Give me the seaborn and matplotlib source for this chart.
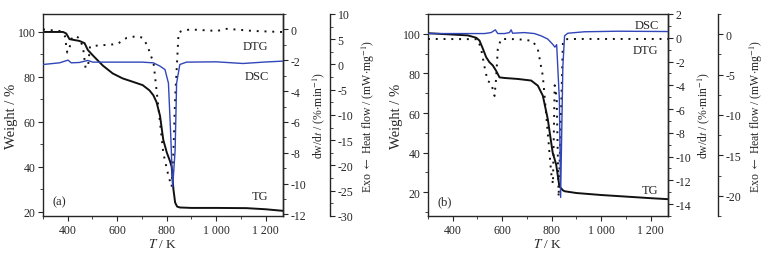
import matplotlib
matplotlib.use("Agg")
import matplotlib.pyplot as plt
import matplotlib.ticker as mticker
import seaborn as sns

# ---------------------------------------------------------------
# data (T in K)
# ---------------------------------------------------------------
# panel (a)
tg_a_T = [300, 381, 394, 407, 447, 468, 481, 501, 542, 582, 622, 663, 703, 730, 746,
          759, 773, 786, 800, 813, 820, 827, 834, 842, 853, 900, 1000, 1122, 1200, 1270]
tg_a_w = [100, 100, 99.3, 96.8, 96, 95, 92, 89.6, 85, 81.5, 79.3, 77.8, 76.3, 74, 71.8,
          68.7, 62.6, 52, 46.4, 42.5, 40, 30, 24, 22.2, 21.8, 21.6, 21.6, 21.5, 21, 20.3]

dtg_a_T = [300, 367, 388, 398, 407, 417, 435, 449, 462, 472, 482, 490, 518, 560, 600,
           638, 678, 703, 723, 736, 746, 766, 786, 807, 820, 827, 834, 848, 861, 895,
           1003, 1043, 1150, 1270]
dtg_a_d = [0, -0.1, -0.4, -1.5, -1.2, -0.5, -0.45, -0.6, -1.2, -2.5, -2.4, -1.1, -1.05,
           -1.0, -0.95, -0.55, -0.44, -0.54, -1.08, -1.73, -2.06, -4.98, -8.0, -9.5,
           -10.2, -8.0, -4.5, -0.2, -0.1, 0, -0.1, 0.04, -0.1, -0.17]

dsc_a_T = [300, 367, 401, 414, 447, 481, 501, 600, 700, 746, 773, 793, 807, 816, 824,
           834, 840, 853, 880, 1000, 1108, 1200, 1270]
dsc_a_h = [0, 0.33, 0.87, 0.33, 0.4, 0.8, 0.47, 0.47, 0.47, 0.33, -0.33, -1.0, -3.7,
           -13.7, -24.3, -17, -3.7, 0, 0.47, 0.53, 0.2, 0.5, 0.67]

# panel (b)
tg_b_T = [300, 461, 495, 508, 522, 535, 548, 562, 575, 589, 609, 663, 717, 744, 764,
          784, 798, 804, 818, 831, 845, 852, 900, 1000, 1100, 1200, 1270]
tg_b_w = [100.3, 99.2, 98, 96.6, 92.4, 88.2, 85.7, 84, 81.4, 78, 77.7, 77.2, 76.4,
          73.8, 68.8, 57, 45, 40, 34, 23, 21, 20.5, 19.6, 18.6, 17.8, 17.0, 16.5]

dtg_b_T = [300, 501, 515, 528, 541, 555, 569, 575, 582, 595, 663, 723, 744, 764, 784,
           798, 805, 812, 820, 828, 838, 845, 852, 900, 1000, 1270]
dtg_b_d = [-0.1, -0.12, -0.97, -2.4, -3.65, -3.8, -4.9, -3.5, -0.97, -0.1, -0.12,
           -0.26, -0.97, -3.2, -8.0, -11.4, -12.3, -4.0, -5.0, -13.4, -6.0, -0.5,
           -0.12, -0.1, -0.1, -0.1]

dsc_b_T = [300, 461, 528, 555, 572, 582, 609, 629, 636, 642, 690, 730, 757, 784, 804,
           813, 820, 831, 836, 845, 852, 865, 932, 1067, 1270]
dsc_b_h = [0.08, 0.08, 0.08, 0.2, 0.54, 0.08, 0.08, 0.2, 0.54, 0.12, 0.2, 0.08, -0.2,
           -0.6, -1.25, -1.6, -1.3, -8.1, -20.2, -4.0, -0.2, 0.12, 0.3, 0.37, 0.33]

panels = [
    dict(tg=(tg_a_T, tg_a_w), dtg=(dtg_a_T, dtg_a_d), dsc=(dsc_a_T, dsc_a_h),
         left=43, wlim=(18, 108), dlim=(-12.1, 1), hlim=(-30, 10), hmaj=5,
         dmaj=2, off=1.196, lab3=1.321, tag="(a)",
         labels=[("DTG", 93.7), ("DSC", 80.4), ("TG", 26.8)], tag_w=24.5, lab_T=1212),
    dict(tg=(tg_b_T, tg_b_w), dtg=(dtg_b_T, dtg_b_d), dsc=(dsc_b_T, dsc_b_h),
         left=428, wlim=(8, 110), dlim=(-15, 2), hlim=(-22.5, 2.5), hmaj=5,
         dmaj=2, off=1.208, lab3=1.333, tag="(b)",
         labels=[("DSC", 104.5), ("DTG", 91.9), ("TG", 21)], tag_w=15.4, lab_T=1232),
]

sns.set_style("ticks")
plt.rcParams['font.family'] = ['Liberation Serif', 'DejaVu Serif']
plt.rcParams['mathtext.fontset'] = 'stix'
plt.rcParams['axes.unicode_minus'] = False
plt.rcParams['font.size'] = 8.5
plt.rcParams['axes.linewidth'] = 1.0
for a in ("x", "y"):
    plt.rcParams[f'{a}tick.major.size'] = 3.5
    plt.rcParams[f'{a}tick.minor.size'] = 2
    plt.rcParams[f'{a}tick.direction'] = 'out'
    plt.rcParams[f'{a}tick.labelsize'] = 8.5
    plt.rcParams[f'{a}tick.major.pad'] = 2

W, H = 774, 255
fig = plt.figure(figsize=(W / 100, H / 100), dpi=100)

black = "#111111"
blue = "#3146b8"


def xfmt(v, pos):
    # "1 000" style thousands grouping
    return f"{int(v):,}".replace(",", " ")


for p in panels:
    ax = fig.add_axes([p["left"] / W, 1 - 217 / H, 240 / W, 202 / H])
    ax2 = ax.twinx()
    ax3 = ax.twinx()

    sns.lineplot(x=p["tg"][0], y=p["tg"][1], ax=ax, color=black, lw=1.4, sort=False)
    sns.lineplot(x=p["dtg"][0], y=p["dtg"][1], ax=ax2, color=black, lw=1.4,
                 linestyle=(0, (1, 3)), sort=False)
    sns.lineplot(x=p["dsc"][0], y=p["dsc"][1], ax=ax3, color=blue, lw=1.0, sort=False)

    ax.set_xlim(300, 1270)
    ax.set_ylim(*p["wlim"])
    ax2.set_ylim(*p["dlim"])
    ax3.set_ylim(*p["hlim"])

    ax.xaxis.set_major_locator(mticker.MultipleLocator(200))
    ax.xaxis.set_minor_locator(mticker.MultipleLocator(100))
    ax.xaxis.set_major_formatter(mticker.FuncFormatter(xfmt))
    ax.yaxis.set_major_locator(mticker.MultipleLocator(20))
    ax.yaxis.set_minor_locator(mticker.MultipleLocator(10))
    ax2.yaxis.set_major_locator(mticker.MultipleLocator(p["dmaj"]))
    ax2.yaxis.set_minor_locator(mticker.MultipleLocator(p["dmaj"] / 2))
    ax3.yaxis.set_major_locator(mticker.MultipleLocator(p["hmaj"]))
    ax3.yaxis.set_minor_locator(mticker.MultipleLocator(p["hmaj"] / 2))

    for s in ("top", "bottom", "left"):
        ax3.spines[s].set_visible(False)
        ax2.spines[s].set_visible(False)
    ax3.spines["right"].set_position(("axes", p["off"]))

    ax.set_xlabel(r"$T$ / K", fontsize=9.5)
    ax.set_ylabel("Weight / %", fontsize=10.5)
    ax2.set_ylabel(r"dw/d$t$ / (%$\cdot$min$^{-1}$)")
    ax3.set_ylabel(r"Exo $\leftarrow$ Heat flow / (mW$\cdot$mg$^{-1}$)")
    ax.xaxis.set_label_coords(0.5, -0.105)
    ax.yaxis.set_label_coords(-0.104, 0.5)
    ax2.yaxis.set_label_coords(1.113, 0.5)
    ax3.yaxis.set_label_coords(p["lab3"], 0.5)

    for txt, yv in p["labels"]:
        ax.text(p["lab_T"], yv, txt, ha="right", va="center", fontsize=9)
    ax.text(340, p["tag_w"], p["tag"], ha="left", va="center", fontsize=9)

fig.savefig("out.png", dpi=100)
